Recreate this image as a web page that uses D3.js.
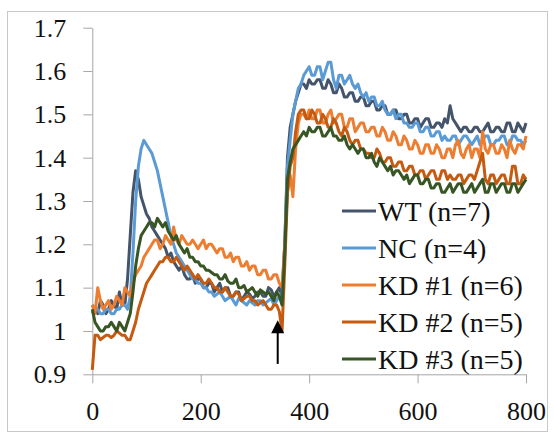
<!DOCTYPE html>
<html lang="en">
<head>
	<meta charset="utf-8">
	<title>Response traces</title>
	<script src="https://d3js.org/d3.v7.min.js"></script>
	<style type="text/css">
		body { margin: 0; background: #ffffff; }
		svg { display: block; }
		.axis path, .axis line { stroke: #a6a6a6; }
		.legend text { font-family: "Liberation Serif", serif; font-size: 28px; fill: #111; }
	</style>
</head>
<body>
	<svg id="chart" width="554" height="438"></svg>

	<script type="text/javascript">

	// sample times (s), one row per 100 s
	var times = [
		0,5,10,15,20,25,30,35,40,45,50,55,60,65,70,75,80,85,90,95,
		100,105,110,115,120,125,130,135,140,145,150,155,160,165,170,175,180,185,190,195,
		200,205,210,215,220,225,230,235,240,245,250,255,260,265,270,275,280,285,290,295,
		300,305,310,315,320,325,330,335,340,345,350,355,360,365,370,375,380,385,390,395,
		400,405,410,415,420,425,430,435,440,445,450,455,460,465,470,475,480,485,490,495,
		500,505,510,515,520,525,530,535,540,545,550,555,560,565,570,575,580,585,590,595,
		600,605,610,615,620,625,630,635,640,645,650,655,660,665,670,675,680,685,690,695,
		700,705,710,715,720,725,730,735,740,745,750,755,760,765,770,775,780,785,790,795,
		800
	]

	// series values
	var wt = [
		1.06,1.05,1.04,1.07,1.06,1.04,1.05,1.07,1.06,1.05,1.09,1.06,1.06,1.12,1.22,1.32,1.37,1.35,1.31,1.29,
		1.27,1.26,1.24,1.23,1.22,1.21,1.20,1.19,1.17,1.18,1.16,1.15,1.14,1.15,1.13,1.12,1.12,1.13,1.11,1.12,
		1.12,1.10,1.10,1.11,1.11,1.09,1.10,1.11,1.09,1.10,1.10,1.08,1.08,1.09,1.09,1.07,1.08,1.09,1.085,1.075,
		1.08,1.09,1.09,1.08,1.08,1.10,1.095,1.08,1.09,1.10,1.08,1.20,1.40,1.47,1.50,1.53,1.55,1.57,1.57,1.56,
		1.58,1.57,1.57,1.58,1.58,1.56,1.56,1.58,1.57,1.55,1.55,1.57,1.56,1.54,1.54,1.55,1.55,1.53,1.53,1.54,
		1.54,1.52,1.52,1.53,1.53,1.51,1.51,1.52,1.52,1.50,1.50,1.51,1.51,1.49,1.49,1.50,1.50,1.48,1.48,1.49,
		1.49,1.47,1.48,1.49,1.49,1.47,1.47,1.48,1.48,1.47,1.49,1.48,1.52,1.49,1.48,1.47,1.46,1.47,1.47,1.46,
		1.46,1.47,1.47,1.46,1.46,1.47,1.48,1.46,1.46,1.47,1.47,1.46,1.46,1.48,1.48,1.46,1.46,1.48,1.47,1.46,
		1.48
	]
	var nc = [
		1.04,1.05,1.05,1.04,1.04,1.05,1.05,1.04,1.04,1.05,1.05,1.06,1.06,1.05,1.08,1.18,1.30,1.38,1.42,1.44,
		1.43,1.42,1.41,1.39,1.37,1.34,1.31,1.28,1.25,1.22,1.20,1.18,1.17,1.16,1.15,1.14,1.13,1.12,1.12,1.11,
		1.11,1.10,1.10,1.09,1.09,1.08,1.085,1.09,1.08,1.07,1.075,1.08,1.07,1.06,1.075,1.07,1.065,1.06,1.07,1.065,
		1.06,1.07,1.07,1.06,1.065,1.07,1.075,1.06,1.07,1.08,1.08,1.20,1.38,1.44,1.50,1.53,1.56,1.57,1.59,1.60,
		1.61,1.59,1.59,1.61,1.61,1.58,1.60,1.62,1.62,1.58,1.56,1.59,1.59,1.57,1.58,1.59,1.57,1.56,1.57,1.55,
		1.54,1.55,1.53,1.54,1.54,1.52,1.52,1.53,1.51,1.50,1.50,1.51,1.49,1.50,1.50,1.48,1.48,1.47,1.47,1.48,
		1.48,1.46,1.46,1.47,1.47,1.45,1.45,1.46,1.46,1.44,1.45,1.44,1.44,1.45,1.45,1.43,1.44,1.45,1.45,1.44,
		1.43,1.44,1.45,1.43,1.44,1.45,1.45,1.43,1.43,1.44,1.44,1.45,1.45,1.43,1.43,1.45,1.45,1.44,1.44,1.43,
		1.44
	]
	var kd1 = [
		1.06,1.04,1.10,1.07,1.05,1.06,1.07,1.05,1.06,1.08,1.07,1.06,1.10,1.09,1.08,1.11,1.13,1.14,1.15,1.17,
		1.18,1.19,1.20,1.21,1.21,1.19,1.20,1.22,1.21,1.20,1.24,1.21,1.20,1.22,1.21,1.20,1.20,1.21,1.20,1.19,
		1.20,1.21,1.19,1.20,1.20,1.19,1.18,1.19,1.19,1.17,1.17,1.18,1.16,1.17,1.17,1.15,1.15,1.16,1.14,1.15,
		1.15,1.13,1.13,1.14,1.14,1.12,1.12,1.13,1.13,1.11,1.10,1.20,1.32,1.36,1.31,1.42,1.48,1.50,1.50,1.49,
		1.51,1.49,1.49,1.51,1.51,1.48,1.48,1.50,1.51,1.48,1.49,1.50,1.50,1.47,1.47,1.49,1.49,1.46,1.47,1.48,
		1.48,1.46,1.46,1.47,1.47,1.45,1.45,1.47,1.46,1.44,1.44,1.46,1.45,1.43,1.43,1.45,1.44,1.42,1.42,1.44,
		1.43,1.41,1.41,1.43,1.43,1.41,1.41,1.43,1.42,1.40,1.40,1.42,1.42,1.40,1.43,1.44,1.41,1.40,1.42,1.43,
		1.40,1.42,1.42,1.40,1.46,1.42,1.41,1.43,1.43,1.41,1.41,1.43,1.42,1.40,1.44,1.42,1.41,1.43,1.43,1.42,
		1.45
	]
	var kd2 = [
		0.91,0.99,0.99,0.98,0.985,0.99,0.99,0.985,0.99,1.00,0.995,0.99,0.99,0.98,0.98,1.00,1.02,1.05,1.07,1.09,
		1.11,1.12,1.13,1.14,1.15,1.16,1.16,1.17,1.17,1.16,1.16,1.17,1.16,1.15,1.14,1.15,1.14,1.13,1.12,1.13,
		1.12,1.11,1.11,1.12,1.11,1.10,1.10,1.09,1.09,1.10,1.09,1.08,1.08,1.09,1.085,1.07,1.075,1.08,1.08,1.07,
		1.07,1.06,1.065,1.07,1.06,1.05,1.05,1.06,1.06,1.045,1.00,1.15,1.32,1.38,1.40,1.46,1.50,1.51,1.51,1.49,
		1.49,1.51,1.50,1.48,1.48,1.50,1.49,1.47,1.47,1.49,1.48,1.46,1.45,1.47,1.46,1.44,1.43,1.44,1.44,1.42,
		1.42,1.41,1.41,1.40,1.40,1.42,1.41,1.39,1.39,1.40,1.40,1.38,1.38,1.39,1.39,1.37,1.37,1.38,1.38,1.36,
		1.36,1.37,1.37,1.35,1.36,1.37,1.37,1.35,1.35,1.37,1.37,1.35,1.36,1.35,1.35,1.36,1.36,1.34,1.35,1.36,
		1.36,1.35,1.37,1.39,1.41,1.35,1.34,1.36,1.36,1.34,1.35,1.36,1.36,1.34,1.34,1.38,1.38,1.34,1.34,1.36,
		1.35
	]
	var kd3 = [
		1.05,1.02,1.01,1.00,1.00,1.01,1.01,1.02,1.01,1.00,1.02,1.01,1.00,1.02,1.04,1.09,1.15,1.19,1.22,1.23,
		1.24,1.25,1.25,1.24,1.26,1.25,1.24,1.25,1.23,1.22,1.21,1.22,1.20,1.19,1.18,1.19,1.17,1.17,1.16,1.16,
		1.15,1.15,1.14,1.14,1.135,1.13,1.13,1.12,1.12,1.13,1.115,1.11,1.11,1.12,1.10,1.10,1.105,1.09,1.095,1.10,
		1.09,1.08,1.095,1.09,1.085,1.09,1.08,1.07,1.09,1.08,1.06,1.18,1.35,1.39,1.42,1.43,1.44,1.45,1.46,1.45,
		1.47,1.46,1.46,1.47,1.47,1.45,1.45,1.46,1.47,1.45,1.45,1.44,1.44,1.45,1.43,1.42,1.43,1.42,1.41,1.42,
		1.42,1.40,1.40,1.41,1.39,1.38,1.40,1.39,1.38,1.37,1.38,1.36,1.37,1.37,1.36,1.35,1.36,1.34,1.35,1.36,
		1.36,1.34,1.34,1.35,1.35,1.33,1.33,1.34,1.34,1.32,1.32,1.33,1.34,1.32,1.33,1.34,1.34,1.32,1.32,1.33,
		1.34,1.32,1.33,1.34,1.35,1.32,1.32,1.34,1.34,1.32,1.33,1.34,1.34,1.32,1.32,1.34,1.34,1.32,1.33,1.34,
		1.35
	]

	var names = ["WT (n=7)", "NC (n=4)", "KD #1 (n=6)", "KD #2 (n=5)", "KD #3 (n=5)"]
	var colors = ["#44546a", "#5b9bd5", "#ed7d31", "#c55a11", "#375623"]
	var xTicks = [0, 200, 400, 600, 800]
	var yTicks = [0.9, 1, 1.1, 1.2, 1.3, 1.4, 1.5, 1.6, 1.7]

	// stimulus arrow
	var arrowAt = 342
	var arrowTip = 1.025
	var arrowEnd = 0.924

	var series = [wt, nc, kd1, kd2, kd3].map((vals, i) => ({
		name: names[i],
		color: colors[i],
		points: vals.map((v, j) => [times[j], v])
	}))

	// layout
	var plot = {left: 92.3, right: 526, top: 27.7, bottom: 374.3}

	var svg = d3.select("#chart")

	// outer frame
	svg.append("rect")
		.attr("x", 7.5)
		.attr("y", 11.5)
		.attr("width", 540)
		.attr("height", 420)
		.attr("fill", "none")
		.attr("stroke", "#c8c8c8")

	var x = d3.scaleLinear().domain([0, 800]).range([plot.left, plot.right])
	var y = d3.scaleLinear().domain([0.9, 1.7]).range([plot.bottom, plot.top])

	var yAxis = svg.append("g")
		.attr("class", "axis")
		.attr("transform", "translate(" + plot.left + ",0)")
		.call(d3.axisLeft(y).tickValues(yTicks).tickSize(9).tickSizeOuter(0).tickPadding(17)
			.tickFormat(d => String(+d.toFixed(1))))

	var xAxis = svg.append("g")
		.attr("class", "axis")
		.attr("transform", "translate(0," + plot.bottom + ")")
		.call(d3.axisBottom(x).tickValues(xTicks).tickSize(9).tickSizeOuter(0).tickPadding(18)
			.tickFormat(d3.format("d")))

	// tick label font
	;[yAxis, xAxis].forEach(g => {
		g.attr("font-family", "'Liberation Serif', serif").attr("font-size", 26)
		g.selectAll("text").attr("fill", "#111")
	})

	var line = d3.line()
		.x(d => x(d[0]))
		.y(d => y(d[1]))

	svg.append("g")
		.attr("fill", "none")
		.attr("stroke-width", 3)
		.attr("stroke-linejoin", "round")
		.selectAll("path")
		.data(series)
		.join("path")
		.attr("stroke", d => d.color)
		.attr("d", d => line(d.points))

	// arrow
	var ax = x(arrowAt)
	svg.append("line")
		.attr("x1", ax).attr("x2", ax)
		.attr("y1", y(arrowTip) + 10).attr("y2", y(arrowEnd))
		.attr("stroke", "#000")
		.attr("stroke-width", 2)
	svg.append("path")
		.attr("d", "M" + ax + "," + y(arrowTip) + "L" + (ax + 6.5) + "," + (y(arrowTip) + 13) + "L" + (ax - 6.5) + "," + (y(arrowTip) + 13) + "Z")
		.attr("fill", "#000")

	// legend
	var legend = svg.append("g")
		.attr("class", "legend")
		.selectAll("g")
		.data(series)
		.join("g")
		.attr("transform", (d, i) => "translate(342," + (211 + i * 37) + ")")

	legend.append("line")
		.attr("x1", 0).attr("x2", 34)
		.attr("stroke", d => d.color)
		.attr("stroke-width", 3)

	legend.append("text")
		.attr("x", 36)
		.attr("dy", "0.34em")
		.text(d => d.name)

	</script>
</body>
</html>
